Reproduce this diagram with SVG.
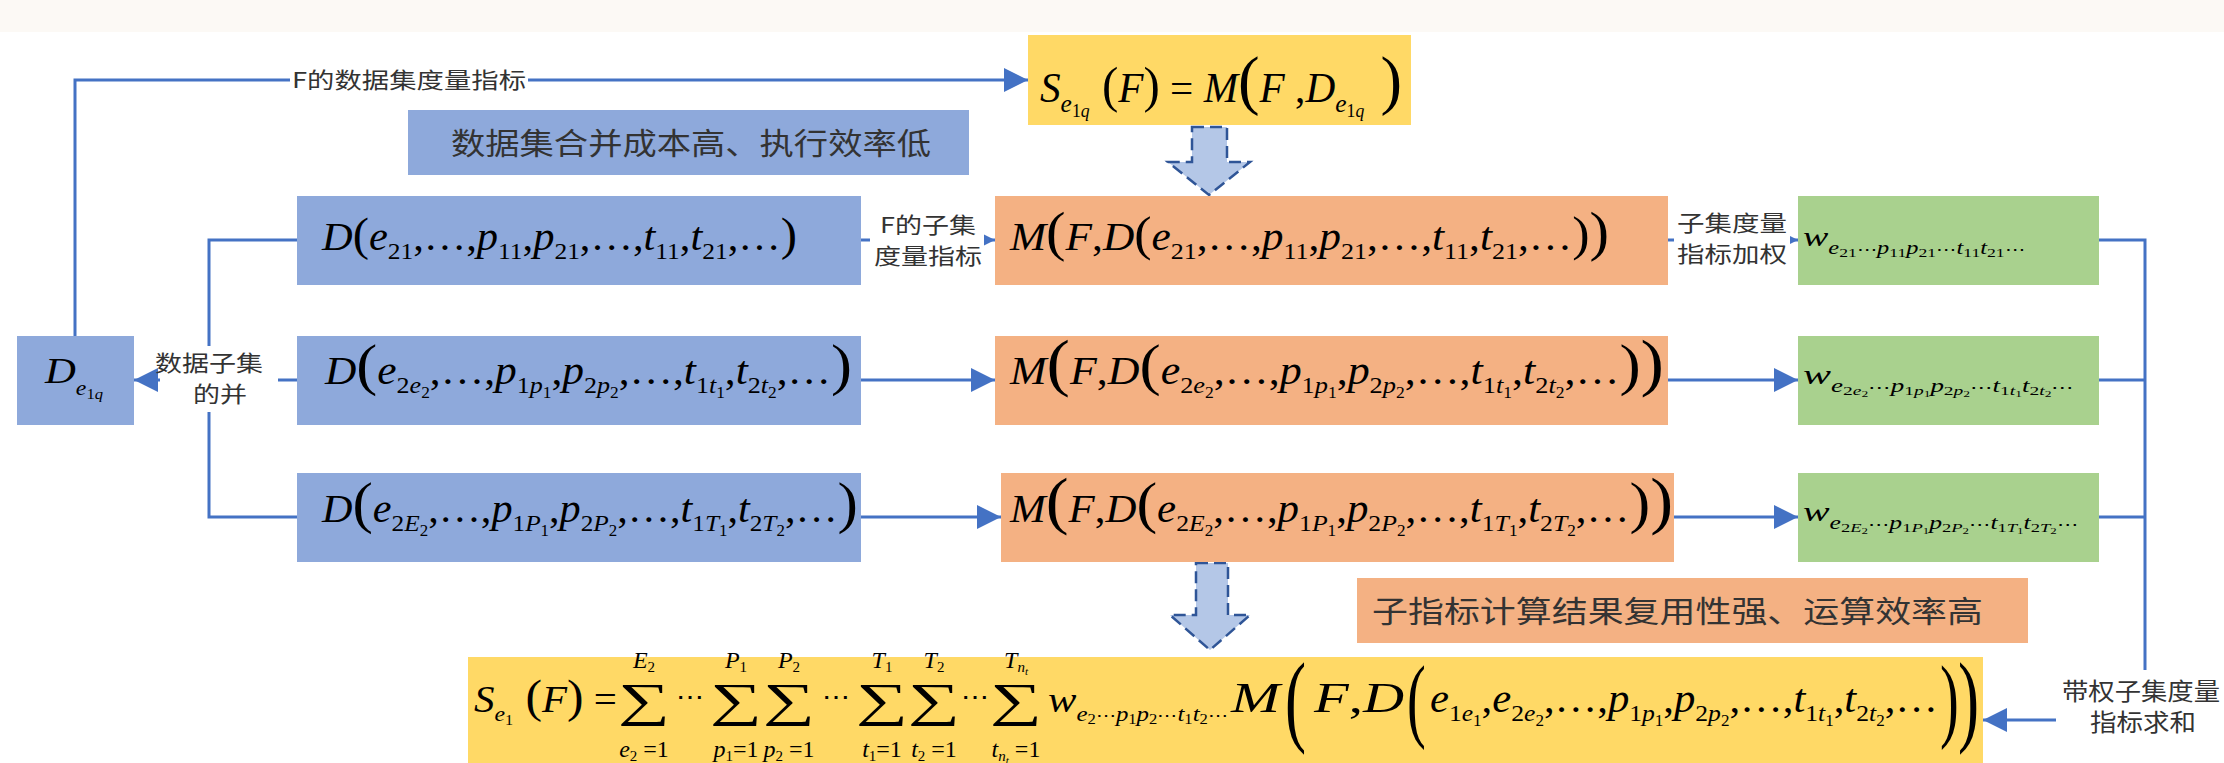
<svg xmlns="http://www.w3.org/2000/svg" width="2224" height="763" viewBox="0 0 2224 763">
<defs>
<style>
.m{font-family:"Liberation Serif","Times New Roman",serif;font-style:italic;fill:#000}
.r{font-style:normal}
.cd{font-family:"DejaVu Serif",serif;font-style:normal}
.sg{font-family:"Liberation Serif","Times New Roman",serif;font-style:normal;font-size:47px;fill:#000;text-anchor:middle}
.lim{font-size:24px;text-anchor:middle}
.pr{font-family:"Liberation Serif","Times New Roman",serif;fill:#000}
.cn{font-family:"Noto Sans CJK SC","Noto Sans",sans-serif;fill:#333}
.conn{fill:none;stroke:#4472C4;stroke-width:3}
.blue{fill:#8EA9DB}
.orange{fill:#F4B183}
.green{fill:#A9D18E}
.yellow{fill:#FFD966}
.blk{fill:#B4C7E7;stroke:#2F5597;stroke-width:2.5;stroke-dasharray:12 6}
.bg{fill:#fff}
</style>
<marker id="ah" markerUnits="userSpaceOnUse" markerWidth="26" markerHeight="24" refX="24" refY="12" orient="auto"><path d="M0,0 L24,12 L0,24 Z" fill="#4472C4"/></marker>
</defs>
<rect x="0" y="0" width="2224" height="763" fill="#fff"/>
<rect x="0" y="0" width="2224" height="32" fill="#FCF9F5"/>

<g id="connectors">
<path class="conn" d="M75,336 V80 H1028" marker-end="url(#ah)"/>
<path class="conn" d="M297,240 H209 V517 H297"/>
<path class="conn" d="M297,380 H134" marker-end="url(#ah)"/>
<path class="conn" d="M861,240 H995" marker-end="url(#ah)"/>
<path class="conn" d="M861,380 H995" marker-end="url(#ah)"/>
<path class="conn" d="M861,517 H1001" marker-end="url(#ah)"/>
<path class="conn" d="M1668,240 H1798" marker-end="url(#ah)"/>
<path class="conn" d="M1668,380 H1798" marker-end="url(#ah)"/>
<path class="conn" d="M1674,517 H1798" marker-end="url(#ah)"/>
<path class="conn" d="M2099,240 H2145 V720 H1983" marker-end="url(#ah)"/>
<path class="conn" d="M2099,380 H2145"/>
<path class="conn" d="M2099,517 H2145"/>
<polygon class="blk" points="1192,127 1227,127 1227,162 1250,162 1209,195 1168,162 1192,162"/>
<polygon class="blk" points="1196,563 1228,563 1228,615 1250,615 1210,650 1170,615 1196,615"/>
<g id="lbl-top">
<rect class="bg" x="290" y="66" width="238" height="28"/>
<text class="cn" x="292" y="88" font-size="22" textLength="234" lengthAdjust="spacingAndGlyphs">F的数据集度量指标</text>
</g>
<g id="lbl-union">
<rect class="bg" x="160" y="346" width="118" height="66"/>
<text class="cn" x="155" y="371" font-size="22" textLength="108" lengthAdjust="spacingAndGlyphs">数据子集</text>
<text class="cn" x="193" y="402" font-size="22" textLength="54" lengthAdjust="spacingAndGlyphs">的并</text>
</g>
<g id="lbl-sub">
<rect class="bg" x="870" y="206" width="114" height="68"/>
<text class="cn" x="880" y="233" font-size="22" textLength="96" lengthAdjust="spacingAndGlyphs">F的子集</text>
<text class="cn" x="874" y="264" font-size="22" textLength="108" lengthAdjust="spacingAndGlyphs">度量指标</text>
</g>
<g id="lbl-weight">
<rect class="bg" x="1674" y="206" width="116" height="68"/>
<text class="cn" x="1677" y="231" font-size="22" textLength="110" lengthAdjust="spacingAndGlyphs">子集度量</text>
<text class="cn" x="1677" y="262" font-size="22" textLength="110" lengthAdjust="spacingAndGlyphs">指标加权</text>
</g>
<g id="lbl-sum">
<rect class="bg" x="2056" y="670" width="168" height="68"/>
<text class="cn" x="2062" y="700" font-size="24" textLength="158" lengthAdjust="spacingAndGlyphs">带权子集度量</text>
<text class="cn" x="2090" y="731" font-size="24" textLength="106" lengthAdjust="spacingAndGlyphs">指标求和</text>
</g>
</g>

<g id="n-top">
<rect class="yellow" x="1028" y="35" width="383" height="90"/>
<text class="m" x="1040" y="102" font-size="42" textLength="362" lengthAdjust="spacingAndGlyphs">S<tspan font-size="26" dy="10">e</tspan><tspan class="r" font-size="18" dy="5">1</tspan><tspan font-size="18">q</tspan><tspan class="r" font-size="50" dy="-15"> (</tspan>F<tspan class="r" font-size="50">)</tspan><tspan class="r"> = </tspan>M<tspan class="r" font-size="66">(</tspan>F<tspan class="r"> ,</tspan>D<tspan font-size="26" dy="10">e</tspan><tspan class="r" font-size="18" dy="5">1</tspan><tspan font-size="18">q</tspan><tspan class="r" font-size="66" dy="-15"> )</tspan></text>
</g>

<g id="n-note1">
<rect class="blue" x="408" y="110" width="561" height="65"/>
<text class="cn" x="451" y="154" font-size="30" textLength="480" lengthAdjust="spacingAndGlyphs">数据集合并成本高、执行效率低</text>
</g>

<g id="n-dunion">
<rect class="blue" x="17" y="336" width="117" height="89"/>
<text class="m" x="45" y="383" font-size="36" textLength="58" lengthAdjust="spacingAndGlyphs">D<tspan font-size="20" dy="12">e</tspan><tspan class="r" font-size="14" dy="4">1</tspan><tspan font-size="14">q</tspan></text>
</g>

<g id="n-d1">
<rect class="blue" x="297" y="196" width="564" height="89"/>
<text class="m" x="322" y="250" font-size="40" textLength="475" lengthAdjust="spacingAndGlyphs">D<tspan class="r" font-size="46">(</tspan>e<tspan class="r" font-size="24" dy="9">21</tspan><tspan class="r" dy="-9">,…,</tspan>p<tspan class="r" font-size="24" dy="9">11</tspan><tspan class="r" dy="-9">,</tspan>p<tspan class="r" font-size="24" dy="9">21</tspan><tspan class="r" dy="-9">,…,</tspan>t<tspan class="r" font-size="24" dy="9">11</tspan><tspan class="r" dy="-9">,</tspan>t<tspan class="r" font-size="24" dy="9">21</tspan><tspan class="r" dy="-9">,…</tspan><tspan class="r" font-size="46">)</tspan></text>
</g>

<g id="n-d2">
<rect class="blue" x="297" y="336" width="564" height="89"/>
<text class="m" x="325" y="384" font-size="40" textLength="527" lengthAdjust="spacingAndGlyphs">D<tspan class="r" font-size="58">(</tspan>e<tspan class="r" font-size="24" dy="9">2</tspan><tspan font-size="24">e</tspan><tspan class="r" font-size="16" dy="5">2</tspan><tspan class="r" dy="-14">,…,</tspan>p<tspan class="r" font-size="24" dy="9">1</tspan><tspan font-size="24">p</tspan><tspan class="r" font-size="16" dy="5">1</tspan><tspan class="r" dy="-14">,</tspan>p<tspan class="r" font-size="24" dy="9">2</tspan><tspan font-size="24">p</tspan><tspan class="r" font-size="16" dy="5">2</tspan><tspan class="r" dy="-14">,…,</tspan>t<tspan class="r" font-size="24" dy="9">1</tspan><tspan font-size="24">t</tspan><tspan class="r" font-size="16" dy="5">1</tspan><tspan class="r" dy="-14">,</tspan>t<tspan class="r" font-size="24" dy="9">2</tspan><tspan font-size="24">t</tspan><tspan class="r" font-size="16" dy="5">2</tspan><tspan class="r" dy="-14">,…</tspan><tspan class="r" font-size="58">)</tspan></text>
</g>

<g id="n-d3">
<rect class="blue" x="297" y="473" width="564" height="89"/>
<text class="m" x="322" y="522" font-size="40" textLength="536" lengthAdjust="spacingAndGlyphs">D<tspan class="r" font-size="58">(</tspan>e<tspan class="r" font-size="24" dy="9">2</tspan><tspan font-size="24">E</tspan><tspan class="r" font-size="16" dy="5">2</tspan><tspan class="r" dy="-14">,…,</tspan>p<tspan class="r" font-size="24" dy="9">1</tspan><tspan font-size="24">P</tspan><tspan class="r" font-size="16" dy="5">1</tspan><tspan class="r" dy="-14">,</tspan>p<tspan class="r" font-size="24" dy="9">2</tspan><tspan font-size="24">P</tspan><tspan class="r" font-size="16" dy="5">2</tspan><tspan class="r" dy="-14">,…,</tspan>t<tspan class="r" font-size="24" dy="9">1</tspan><tspan font-size="24">T</tspan><tspan class="r" font-size="16" dy="5">1</tspan><tspan class="r" dy="-14">,</tspan>t<tspan class="r" font-size="24" dy="9">2</tspan><tspan font-size="24">T</tspan><tspan class="r" font-size="16" dy="5">2</tspan><tspan class="r" dy="-14">,…</tspan><tspan class="r" font-size="58">)</tspan></text>
</g>

<g id="n-m1">
<rect class="orange" x="995" y="196" width="673" height="89"/>
<text class="m" x="1010" y="250" font-size="40" textLength="599" lengthAdjust="spacingAndGlyphs">M<tspan class="r" font-size="54">(</tspan>F<tspan class="r">,</tspan>D<tspan class="r" font-size="48">(</tspan>e<tspan class="r" font-size="24" dy="9">21</tspan><tspan class="r" dy="-9">,…,</tspan>p<tspan class="r" font-size="24" dy="9">11</tspan><tspan class="r" dy="-9">,</tspan>p<tspan class="r" font-size="24" dy="9">21</tspan><tspan class="r" dy="-9">,…,</tspan>t<tspan class="r" font-size="24" dy="9">11</tspan><tspan class="r" dy="-9">,</tspan>t<tspan class="r" font-size="24" dy="9">21</tspan><tspan class="r" dy="-9">,…</tspan><tspan class="r" font-size="48">)</tspan><tspan class="r" font-size="54">)</tspan></text>
</g>

<g id="n-m2">
<rect class="orange" x="995" y="336" width="673" height="89"/>
<text class="m" x="1010" y="384" font-size="40" textLength="654" lengthAdjust="spacingAndGlyphs">M<tspan class="r" font-size="64">(</tspan>F<tspan class="r">,</tspan>D<tspan class="r" font-size="58">(</tspan>e<tspan class="r" font-size="24" dy="9">2</tspan><tspan font-size="24">e</tspan><tspan class="r" font-size="16" dy="5">2</tspan><tspan class="r" dy="-14">,…,</tspan>p<tspan class="r" font-size="24" dy="9">1</tspan><tspan font-size="24">p</tspan><tspan class="r" font-size="16" dy="5">1</tspan><tspan class="r" dy="-14">,</tspan>p<tspan class="r" font-size="24" dy="9">2</tspan><tspan font-size="24">p</tspan><tspan class="r" font-size="16" dy="5">2</tspan><tspan class="r" dy="-14">,…,</tspan>t<tspan class="r" font-size="24" dy="9">1</tspan><tspan font-size="24">t</tspan><tspan class="r" font-size="16" dy="5">1</tspan><tspan class="r" dy="-14">,</tspan>t<tspan class="r" font-size="24" dy="9">2</tspan><tspan font-size="24">t</tspan><tspan class="r" font-size="16" dy="5">2</tspan><tspan class="r" dy="-14">,…</tspan><tspan class="r" font-size="58">)</tspan><tspan class="r" font-size="64">)</tspan></text>
</g>

<g id="n-m3">
<rect class="orange" x="1001" y="473" width="673" height="89"/>
<text class="m" x="1010" y="522" font-size="40" textLength="663" lengthAdjust="spacingAndGlyphs">M<tspan class="r" font-size="64">(</tspan>F<tspan class="r">,</tspan>D<tspan class="r" font-size="58">(</tspan>e<tspan class="r" font-size="24" dy="9">2</tspan><tspan font-size="24">E</tspan><tspan class="r" font-size="16" dy="5">2</tspan><tspan class="r" dy="-14">,…,</tspan>p<tspan class="r" font-size="24" dy="9">1</tspan><tspan font-size="24">P</tspan><tspan class="r" font-size="16" dy="5">1</tspan><tspan class="r" dy="-14">,</tspan>p<tspan class="r" font-size="24" dy="9">2</tspan><tspan font-size="24">P</tspan><tspan class="r" font-size="16" dy="5">2</tspan><tspan class="r" dy="-14">,…,</tspan>t<tspan class="r" font-size="24" dy="9">1</tspan><tspan font-size="24">T</tspan><tspan class="r" font-size="16" dy="5">1</tspan><tspan class="r" dy="-14">,</tspan>t<tspan class="r" font-size="24" dy="9">2</tspan><tspan font-size="24">T</tspan><tspan class="r" font-size="16" dy="5">2</tspan><tspan class="r" dy="-14">,…</tspan><tspan class="r" font-size="58">)</tspan><tspan class="r" font-size="64">)</tspan></text>
</g>

<g id="n-w1">
<rect class="green" x="1798" y="196" width="301" height="89"/>
<text class="m" x="1803" y="246" font-size="28" textLength="222" lengthAdjust="spacingAndGlyphs">w<tspan font-size="18" dy="8">e</tspan><tspan class="r" font-size="13" dy="3">21</tspan><tspan class="cd" font-size="15" dy="-3">⋯</tspan><tspan font-size="18">p</tspan><tspan class="r" font-size="13" dy="3">11</tspan><tspan font-size="18" dy="-3">p</tspan><tspan class="r" font-size="13" dy="3">21</tspan><tspan class="cd" font-size="15" dy="-3">⋯</tspan><tspan font-size="18">t</tspan><tspan class="r" font-size="13" dy="3">11</tspan><tspan font-size="18" dy="-3">t</tspan><tspan class="r" font-size="13" dy="3">21</tspan><tspan class="cd" font-size="15" dy="-3">⋯</tspan></text>
</g>

<g id="n-w2">
<rect class="green" x="1798" y="336" width="301" height="89"/>
<text class="m" x="1803" y="384" font-size="28" textLength="271" lengthAdjust="spacingAndGlyphs">w<tspan font-size="18" dy="8">e</tspan><tspan class="r" font-size="13" dy="3">2</tspan><tspan font-size="13">e</tspan><tspan class="r" font-size="9" dy="2">2</tspan><tspan class="cd" font-size="15" dy="-5">⋯</tspan><tspan font-size="18">p</tspan><tspan class="r" font-size="13" dy="3">1</tspan><tspan font-size="13">p</tspan><tspan class="r" font-size="9" dy="2">1</tspan><tspan font-size="18" dy="-5">p</tspan><tspan class="r" font-size="13" dy="3">2</tspan><tspan font-size="13">p</tspan><tspan class="r" font-size="9" dy="2">2</tspan><tspan class="cd" font-size="15" dy="-5">⋯</tspan><tspan font-size="18">t</tspan><tspan class="r" font-size="13" dy="3">1</tspan><tspan font-size="13">t</tspan><tspan class="r" font-size="9" dy="2">1</tspan><tspan font-size="18" dy="-5">t</tspan><tspan class="r" font-size="13" dy="3">2</tspan><tspan font-size="13">t</tspan><tspan class="r" font-size="9" dy="2">2</tspan><tspan class="cd" font-size="15" dy="-5">⋯</tspan></text>
</g>

<g id="n-w3">
<rect class="green" x="1798" y="473" width="301" height="89"/>
<text class="m" x="1803" y="521" font-size="28" textLength="275" lengthAdjust="spacingAndGlyphs">w<tspan font-size="18" dy="8">e</tspan><tspan class="r" font-size="13" dy="3">2</tspan><tspan font-size="13">E</tspan><tspan class="r" font-size="9" dy="2">2</tspan><tspan class="cd" font-size="15" dy="-5">⋯</tspan><tspan font-size="18">p</tspan><tspan class="r" font-size="13" dy="3">1</tspan><tspan font-size="13">P</tspan><tspan class="r" font-size="9" dy="2">1</tspan><tspan font-size="18" dy="-5">p</tspan><tspan class="r" font-size="13" dy="3">2</tspan><tspan font-size="13">P</tspan><tspan class="r" font-size="9" dy="2">2</tspan><tspan class="cd" font-size="15" dy="-5">⋯</tspan><tspan font-size="18">t</tspan><tspan class="r" font-size="13" dy="3">1</tspan><tspan font-size="13">T</tspan><tspan class="r" font-size="9" dy="2">1</tspan><tspan font-size="18" dy="-5">t</tspan><tspan class="r" font-size="13" dy="3">2</tspan><tspan font-size="13">T</tspan><tspan class="r" font-size="9" dy="2">2</tspan><tspan class="cd" font-size="15" dy="-5">⋯</tspan></text>
</g>

<g id="n-note2">
<rect class="orange" x="1357" y="578" width="671" height="65"/>
<text class="cn" x="1372" y="622" font-size="30" textLength="611" lengthAdjust="spacingAndGlyphs">子指标计算结果复用性强、运算效率高</text>
</g>

<g id="n-bottom">
<rect class="yellow" x="468" y="657" width="1515" height="106"/>
<text class="m" x="474" y="712" font-size="38" textLength="143" lengthAdjust="spacingAndGlyphs">S<tspan font-size="22" dy="9">e</tspan><tspan class="r" font-size="15" dy="4">1</tspan><tspan class="r" font-size="46" dy="-13"> (</tspan>F<tspan class="r" font-size="46">)</tspan><tspan class="r"> =</tspan></text>
<text class="sg" transform="translate(644,716) scale(1.55,1)">∑</text>
<text class="sg" transform="translate(736,716) scale(1.55,1)">∑</text>
<text class="sg" transform="translate(789,716) scale(1.55,1)">∑</text>
<text class="sg" transform="translate(882,716) scale(1.55,1)">∑</text>
<text class="sg" transform="translate(934,716) scale(1.55,1)">∑</text>
<text class="sg" transform="translate(1016,716) scale(1.55,1)">∑</text>
<text class="m lim" x="644" y="668">E<tspan class="r" font-size="15" dy="4">2</tspan></text>
<text class="m lim" x="736" y="668">P<tspan class="r" font-size="15" dy="4">1</tspan></text>
<text class="m lim" x="789" y="668">P<tspan class="r" font-size="15" dy="4">2</tspan></text>
<text class="m lim" x="882" y="668">T<tspan class="r" font-size="15" dy="4">1</tspan></text>
<text class="m lim" x="934" y="668">T<tspan class="r" font-size="15" dy="4">2</tspan></text>
<text class="m lim" x="1016" y="668">T<tspan font-size="15" dy="4">n</tspan><tspan font-size="11" dy="3">t</tspan></text>
<text class="m lim" x="644" y="757">e<tspan class="r" font-size="15" dy="4">2</tspan><tspan class="r" dy="-4"> =1</tspan></text>
<text class="m lim" x="736" y="757">p<tspan class="r" font-size="15" dy="4">1</tspan><tspan class="r" dy="-4">=1</tspan></text>
<text class="m lim" x="789" y="757">p<tspan class="r" font-size="15" dy="4">2</tspan><tspan class="r" dy="-4"> =1</tspan></text>
<text class="m lim" x="882" y="757">t<tspan class="r" font-size="15" dy="4">1</tspan><tspan class="r" dy="-4">=1</tspan></text>
<text class="m lim" x="934" y="757">t<tspan class="r" font-size="15" dy="4">2</tspan><tspan class="r" dy="-4"> =1</tspan></text>
<text class="m lim" x="1016" y="757">t<tspan font-size="15" dy="4">n</tspan><tspan font-size="11" dy="3">t</tspan><tspan class="r" dy="-7"> =1</tspan></text>
<text class="m cd" x="690" y="706" font-size="28" text-anchor="middle">⋯</text>
<text class="m cd" x="836" y="706" font-size="28" text-anchor="middle">⋯</text>
<text class="m cd" x="975" y="706" font-size="28" text-anchor="middle">⋯</text>
<text class="m" x="1048" y="712" font-size="36" textLength="180" lengthAdjust="spacingAndGlyphs">w<tspan font-size="21" dy="9">e</tspan><tspan class="r" font-size="14" dy="3">2</tspan><tspan class="cd" font-size="17" dy="-3">⋯</tspan><tspan font-size="21">p</tspan><tspan class="r" font-size="14" dy="3">1</tspan><tspan font-size="21" dy="-3">p</tspan><tspan class="r" font-size="14" dy="3">2</tspan><tspan class="cd" font-size="17" dy="-3">⋯</tspan><tspan font-size="21">t</tspan><tspan class="r" font-size="14" dy="3">1</tspan><tspan font-size="21" dy="-3">t</tspan><tspan class="r" font-size="14" dy="3">2</tspan><tspan class="cd" font-size="17" dy="-3">⋯</tspan></text>
<text class="m" x="1231" y="712" font-size="42" textLength="49" lengthAdjust="spacingAndGlyphs">M</text>
<text class="pr" transform="translate(1285,733) scale(0.62,1)" font-size="102">(</text>
<text class="m" x="1314" y="712" font-size="42" textLength="90" lengthAdjust="spacingAndGlyphs">F<tspan class="r">,</tspan>D</text>
<text class="pr" transform="translate(1407,730) scale(0.6,1)" font-size="94">(</text>
<text class="m" x="1430" y="712" font-size="40" textLength="508" lengthAdjust="spacingAndGlyphs">e<tspan class="r" font-size="24" dy="9">1</tspan><tspan font-size="24">e</tspan><tspan class="r" font-size="16" dy="5">1</tspan><tspan class="r" dy="-14">,</tspan>e<tspan class="r" font-size="24" dy="9">2</tspan><tspan font-size="24">e</tspan><tspan class="r" font-size="16" dy="5">2</tspan><tspan class="r" dy="-14">,…,</tspan>p<tspan class="r" font-size="24" dy="9">1</tspan><tspan font-size="24">p</tspan><tspan class="r" font-size="16" dy="5">1</tspan><tspan class="r" dy="-14">,</tspan>p<tspan class="r" font-size="24" dy="9">2</tspan><tspan font-size="24">p</tspan><tspan class="r" font-size="16" dy="5">2</tspan><tspan class="r" dy="-14">,…,</tspan>t<tspan class="r" font-size="24" dy="9">1</tspan><tspan font-size="24">t</tspan><tspan class="r" font-size="16" dy="5">1</tspan><tspan class="r" dy="-14">,</tspan>t<tspan class="r" font-size="24" dy="9">2</tspan><tspan font-size="24">t</tspan><tspan class="r" font-size="16" dy="5">2</tspan><tspan class="r" dy="-14">,…</tspan></text>
<text class="pr" transform="translate(1940,730) scale(0.6,1)" font-size="94">)</text>
<text class="pr" transform="translate(1958,733) scale(0.62,1)" font-size="102">)</text>
</g>
</svg>
